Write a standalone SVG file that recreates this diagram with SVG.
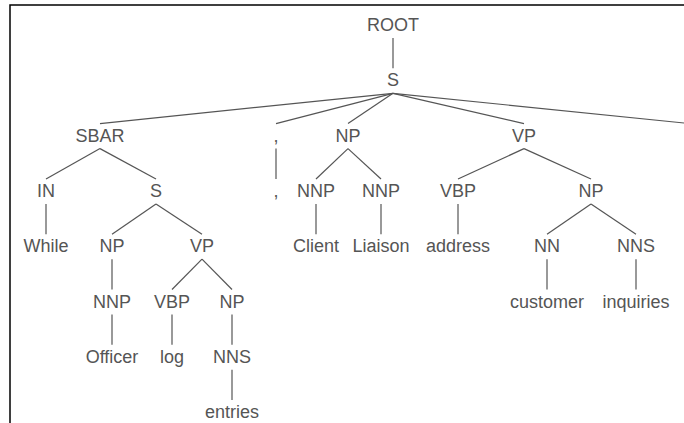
<svg xmlns="http://www.w3.org/2000/svg" width="684" height="423" viewBox="0 0 684 423">
<style>
text{font-family:"Liberation Sans",Arial,sans-serif;font-size:18px;fill:#555;text-anchor:middle}
.c line{stroke:#555;stroke-width:1.2}
.frame{stroke:#000;stroke-width:1.5;fill:none}
</style>
<rect width="684" height="423" fill="#fff"/>
<path class="frame" d="M10,423 V5 H684"/>
<g class="c" id="connectors">
<line x1="393" y1="38" x2="393" y2="68.3"/>
<line x1="393" y1="93.3" x2="100" y2="123.6"/>
<line x1="393" y1="93.3" x2="276" y2="123.6"/>
<line x1="393" y1="93.3" x2="348" y2="123.6"/>
<line x1="393" y1="93.3" x2="524" y2="123.6"/>
<line x1="393" y1="93.3" x2="690" y2="123.6"/>
<line x1="100" y1="148.6" x2="46" y2="179"/>
<line x1="100" y1="148.6" x2="156" y2="179"/>
<line x1="276" y1="148.6" x2="276" y2="179"/>
<line x1="348" y1="148.6" x2="316" y2="179"/>
<line x1="348" y1="148.6" x2="381" y2="179"/>
<line x1="524" y1="148.6" x2="458" y2="179"/>
<line x1="524" y1="148.6" x2="591" y2="179"/>
<line x1="46" y1="204" x2="46" y2="234.2"/>
<line x1="156" y1="204" x2="112" y2="234.2"/>
<line x1="156" y1="204" x2="202" y2="234.2"/>
<line x1="316" y1="204" x2="316" y2="234.2"/>
<line x1="381" y1="204" x2="381" y2="234.2"/>
<line x1="458" y1="204" x2="458" y2="234.2"/>
<line x1="591" y1="204" x2="547" y2="234.2"/>
<line x1="591" y1="204" x2="636" y2="234.2"/>
<line x1="112" y1="259.2" x2="112" y2="289.5"/>
<line x1="202" y1="259.2" x2="172" y2="289.5"/>
<line x1="202" y1="259.2" x2="232" y2="289.5"/>
<line x1="547" y1="259.2" x2="547" y2="289.5"/>
<line x1="636" y1="259.2" x2="636" y2="289.5"/>
<line x1="112" y1="314.5" x2="112" y2="344.8"/>
<line x1="172" y1="314.5" x2="172" y2="344.8"/>
<line x1="232" y1="314.5" x2="232" y2="344.8"/>
<line x1="232" y1="369.8" x2="232" y2="400"/>
</g>
<g id="n-root"><text x="393" y="31">ROOT</text></g>
<g id="n-s"><text x="393" y="86.3">S</text></g>
<g id="n-sbar"><text x="100" y="141.6">SBAR</text></g>
<g id="n-comma"><text x="276" y="141.6">,</text></g>
<g id="n-np1"><text x="348" y="141.6">NP</text></g>
<g id="n-vp1"><text x="524" y="141.6">VP</text></g>
<g id="n-in"><text x="46" y="197">IN</text></g>
<g id="n-s2"><text x="156" y="197">S</text></g>
<g id="n-commaleaf"><text x="276" y="197">,</text></g>
<g id="n-nnp1"><text x="316" y="197">NNP</text></g>
<g id="n-nnp2"><text x="381" y="197">NNP</text></g>
<g id="n-vbp1"><text x="458" y="197">VBP</text></g>
<g id="n-np2"><text x="591" y="197">NP</text></g>
<g id="n-while"><text x="46" y="252.2">While</text></g>
<g id="n-np3"><text x="112" y="252.2">NP</text></g>
<g id="n-vp2"><text x="202" y="252.2">VP</text></g>
<g id="n-client"><text x="316" y="252.2">Client</text></g>
<g id="n-liaison"><text x="381" y="252.2">Liaison</text></g>
<g id="n-address"><text x="458" y="252.2">address</text></g>
<g id="n-nn"><text x="547" y="252.2">NN</text></g>
<g id="n-nns1"><text x="636" y="252.2">NNS</text></g>
<g id="n-nnp3"><text x="112" y="307.5">NNP</text></g>
<g id="n-vbp2"><text x="172" y="307.5">VBP</text></g>
<g id="n-np4"><text x="232" y="307.5">NP</text></g>
<g id="n-customer"><text x="547" y="307.5">customer</text></g>
<g id="n-inquiries"><text x="636" y="307.5">inquiries</text></g>
<g id="n-officer"><text x="112" y="362.8">Officer</text></g>
<g id="n-log"><text x="172" y="362.8">log</text></g>
<g id="n-nns2"><text x="232" y="362.8">NNS</text></g>
<g id="n-entries"><text x="232" y="418">entries</text></g>
</svg>
